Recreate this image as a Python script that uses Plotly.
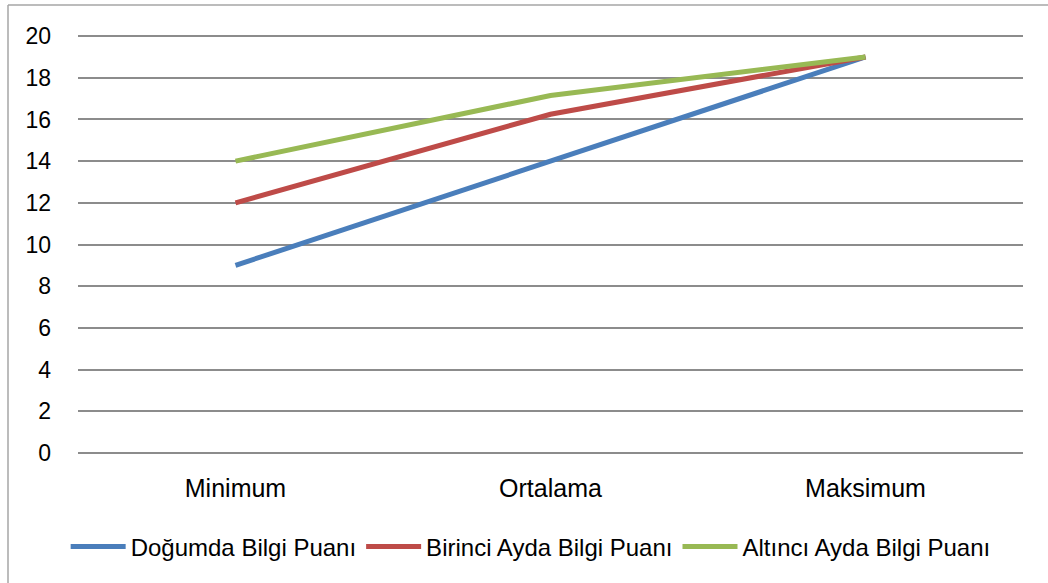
import plotly.graph_objects as go

categories = ["Minimum", "Ortalama", "Maksimum"]
dogumda = [9, 14.0, 19]
birinci = [12, 16.25, 19]
altinci = [14, 17.15, 19]
series_names = ["Doğumda Bilgi Puanı", "Birinci Ayda Bilgi Puanı", "Altıncı Ayda Bilgi Puanı"]
colors = ["#4A7EBB", "#BE4B48", "#98B954"]
y_ticks = list(range(0, 21, 2))

W, H = 1048, 583
ml, mr, mt, mb = 78, 25, 34, 128

fig = go.Figure()
for name, vals, col in zip(series_names, [dogumda, birinci, altinci], colors):
    fig.add_trace(go.Scatter(x=categories, y=vals, mode="lines", name=name,
                             line=dict(color=col, width=5)))

pw = W - ml - mr
ph = H - mt - mb
bx = (8 - ml) / pw
by = 1 + (mt - 5) / ph
leg_y = -(547 - (H - mb)) / ph

fig.update_layout(
    width=W, height=H,
    margin=dict(l=ml, r=mr, t=mt, b=mb),
    paper_bgcolor="white", plot_bgcolor="white",
    font=dict(family="Liberation Sans, Arial, sans-serif", size=24, color="#000000"),
    showlegend=True,
    legend=dict(orientation="h", x=0.479, xanchor="center", y=leg_y, yanchor="middle",
                font=dict(size=24), itemwidth=55, traceorder="normal"),
    xaxis=dict(showgrid=False, zeroline=False, showline=False, ticks="",
               ticklabelstandoff=16, range=[-0.5, 2.5], tickfont=dict(size=25)),
    yaxis=dict(range=[-0.1, 20.1], tickvals=y_ticks, showgrid=True, gridcolor="#8c8c8c",
               gridwidth=1.5, zeroline=False, showline=False, ticks="",
               ticklabelstandoff=26, tickfont=dict(size=23)),
    shapes=[
        dict(type="line", xref="paper", yref="paper", x0=bx, x1=bx, y0=-1, y1=by,
             line=dict(color="#a6a6a6", width=1.5)),
        dict(type="line", xref="paper", yref="paper", x0=bx, x1=1.2, y0=by, y1=by,
             line=dict(color="#a6a6a6", width=1.5)),
    ],
)

fig.write_html("out.html", config={"displayModeBar": False},
               post_script="document.body.style.margin='0px';")
